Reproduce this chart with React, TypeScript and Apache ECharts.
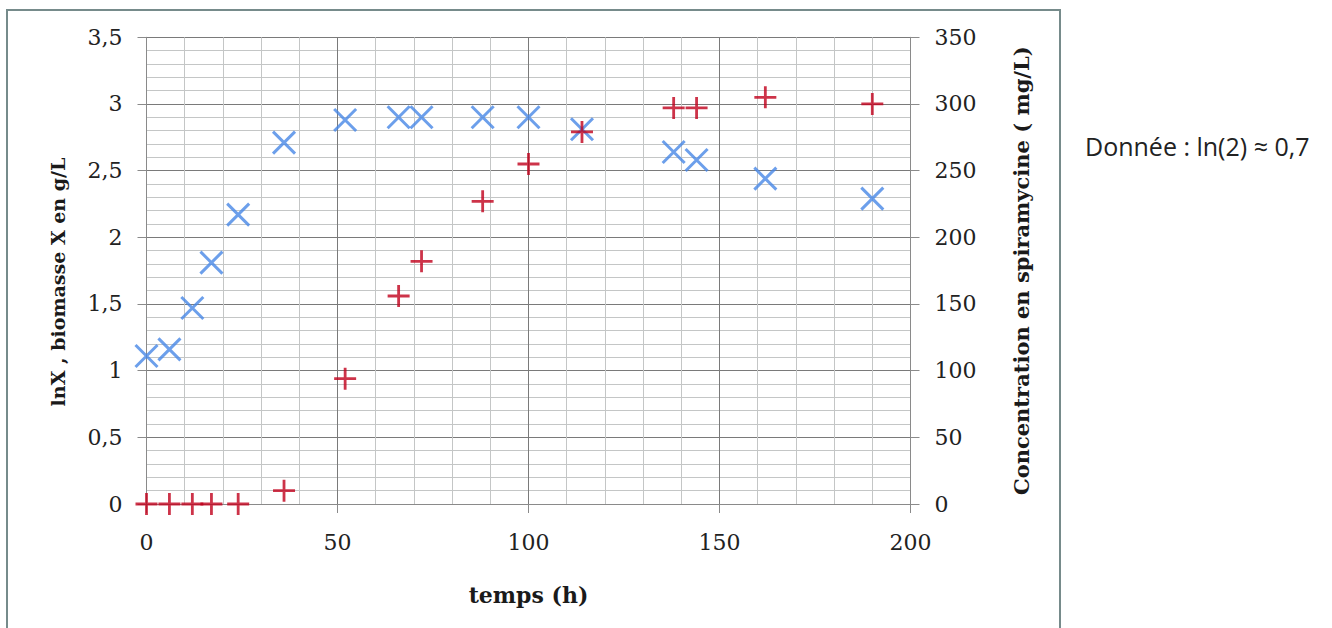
import React, { useEffect, useRef } from "react";
import * as echarts from "echarts";

const timeH = [0, 6, 12, 17, 24, 36, 52, 66, 72, 88, 100, 114, 138, 144, 162, 190];
const lnX = [1.11, 1.16, 1.47, 1.81, 2.17, 2.71, 2.88, 2.9, 2.9, 2.9, 2.9, 2.81, 2.64, 2.58, 2.44, 2.29];
const spiramycine = [0, 0, 0, 0, 0, 10, 94, 156, 182, 227, 255, 279, 297, 297, 305, 300];

const xName = "temps (h)";
const yLeftName = "lnX , biomasse X en g/L";
const yRightName = "Concentration en spiramycine ( mg/L)";
const note = "Donnée : ln(2) ≈ 0,7";

const fmtComma = (v: number) => String(v).replace(".", ",");

export default function App() {
  const ref = useRef<HTMLDivElement>(null);
  useEffect(() => {
    if (!ref.current) return;
    const chart = echarts.init(ref.current, null, { renderer: "svg" });
    const serif = "DejaVu Serif";
    const labelStyle = { fontFamily: serif, fontSize: 22, color: "#222" };
    const nameStyle = { fontFamily: serif, fontSize: 21, fontWeight: "bold" as const, color: "#1a1a1a" };
    chart.setOption({
      animation: false,
      backgroundColor: "#ffffff",
      grid: { left: 146.5, right: 421.5, top: 37.3, bottom: 124, containLabel: false },
      graphic: [
        {
          type: "rect",
          shape: { x: 7, y: 10, width: 1053, height: 640 },
          style: { fill: "none", stroke: "#768b8b", lineWidth: 2 },
          silent: true,
        },
        {
          type: "text",
          x: 1085,
          y: 146,
          style: {
            text: note,
            fontFamily: "Open Sans",
            fontSize: 25,
            fill: "#222",
            verticalAlign: "middle",
          },
        },
        {
          type: "text",
          x: 58,
          y: 282,
          rotation: Math.PI / 2,
          style: {
            text: yLeftName,
            fontFamily: serif,
            fontSize: 19,
            fontWeight: "bold",
            fill: "#1a1a1a",
            align: "center",
            verticalAlign: "middle",
          },
        },
      ],
      xAxis: {
        type: "value",
        min: 0,
        max: 200,
        interval: 50,
        name: xName,
        nameLocation: "middle",
        nameGap: 80,
        nameTextStyle: { ...nameStyle, fontSize: 22 },
        axisLine: { show: true, lineStyle: { color: "#8a8a8a", width: 1 } },
        axisTick: { show: true, length: 9, lineStyle: { color: "#8a8a8a" } },
        axisLabel: { ...labelStyle, margin: 27 },
        splitLine: { show: true, lineStyle: { color: "#7a7a7a", width: 1 } },
        minorTick: { show: false, splitNumber: 5 },
        minorSplitLine: { show: true, lineStyle: { color: "#c4c6c6", width: 1 } },
      },
      yAxis: [
        {
          type: "value",
          min: 0,
          max: 3.5,
          interval: 0.5,
          position: "left",
          axisLine: { show: true, lineStyle: { color: "#8a8a8a", width: 1 } },
          axisTick: { show: true, length: 9, lineStyle: { color: "#8a8a8a" } },
          axisLabel: { ...labelStyle, margin: 24, formatter: (v: number) => fmtComma(v) },
          splitLine: { show: true, lineStyle: { color: "#7a7a7a", width: 1 } },
          minorTick: { show: false, splitNumber: 5 },
          minorSplitLine: { show: true, lineStyle: { color: "#c4c6c6", width: 1 } },
        },
        {
          type: "value",
          min: 0,
          max: 350,
          interval: 50,
          position: "right",
          name: yRightName,
          nameLocation: "middle",
          nameGap: 100,
          nameTextStyle: nameStyle,
          axisLine: { show: true, lineStyle: { color: "#8a8a8a", width: 1 } },
          axisTick: { show: true, length: 9, lineStyle: { color: "#8a8a8a" } },
          axisLabel: { ...labelStyle, margin: 24 },
          splitLine: { show: false },
        },
      ],
      series: [
        {
          type: "scatter",
          name: "lnX",
          yAxisIndex: 0,
          symbol: "path://M0,0L20,20M20,0L0,20",
          symbolSize: [22, 22],
          itemStyle: { color: "rgba(0,0,0,0)", borderColor: "#4787e6", borderWidth: 3 },
          data: timeH.map((t, i) => [t, lnX[i]]),
          z: 3,
        },
        {
          type: "scatter",
          name: "spiramycine",
          yAxisIndex: 1,
          symbol: "path://M0,10L20,10M10,0L10,20",
          symbolSize: [22, 22],
          itemStyle: { color: "rgba(0,0,0,0)", borderColor: "#c0001c", borderWidth: 2.8 },
          data: timeH.map((t, i) => [t, spiramycine[i]]),
          z: 4,
        },
      ],
    });
    return () => chart.dispose();
  }, []);
  return (
    <div
      ref={ref}
      style={{ position: "fixed", left: 0, top: 0, width: 1332, height: 628 }}
    />
  );
}
